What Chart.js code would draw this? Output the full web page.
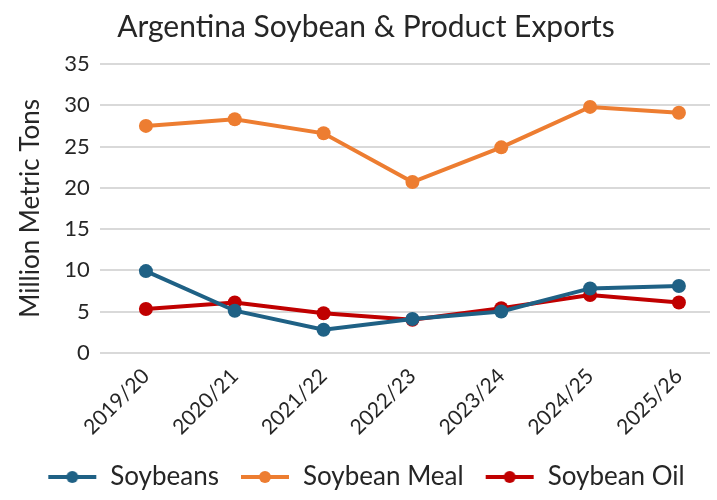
<!DOCTYPE html>
<html>
<head>
<meta charset="utf-8">
<script src="https://cdn.jsdelivr.net/npm/chart.js@4.4.1/dist/chart.umd.min.js"></script>
<style>
  html, body { margin:0; padding:0; background:#fff; }
  #c { display:block; }
</style>
</head>
<body>
<canvas id="c" width="717" height="500"></canvas>
<script>
// marketing years
var seasons = ["2019/20", "2020/21", "2021/22", "2022/23", "2023/24", "2024/25", "2025/26"];
var soybeans = [9.9, 5.1, 2.8, 4.1, 5.0, 7.8, 8.1];
var soyMeal = [27.5, 28.3, 26.6, 20.7, 24.9, 29.8, 29.1];
var soyOil = [5.3, 6.1, 4.8, 4.0, 5.4, 7.0, 6.1];
var yTicks = [0, 5, 10, 15, 20, 25, 30, 35];

var FONT = "Lato, 'Open Sans', sans-serif";

function toPoints(arr){
    var pts = [];
    for(var i=0;i<arr.length;i++){
        pts.push({x:i, y:arr[i]});
    }
    return pts;
}

// legend marker: short line with a dot in the middle
function legendMark(color){
    var cv = document.createElement("canvas");
    cv.width = 50; cv.height = 16;
    var g = cv.getContext("2d");
    g.strokeStyle = color;
    g.lineWidth = 4;
    g.beginPath(); g.moveTo(1,8); g.lineTo(49,8); g.stroke();
    g.fillStyle = color;
    g.beginPath(); g.arc(25,8,6,0,Math.PI*2); g.fill();
    return cv;
}

function series(label, arr, color){
    return {
        label: label,
        data: toPoints(arr),
        borderColor: color,
        backgroundColor: color,
        borderWidth: 4,
        pointRadius: 7,
        pointHoverRadius: 7,
        pointBorderWidth: 0,
        tension: 0,
        _mark: legendMark(color)
    };
}

var ctx = document.getElementById("c").getContext("2d");
var chart = new Chart(ctx, {
    type: "line",
    data: {
        datasets: [
            series("Soybeans", soybeans, "#1f6185"),
            series("Soybean Meal", soyMeal, "#ed7d31"),
            series("Soybean Oil", soyOil, "#c00000")
        ]
    },
    options: {
        responsive: false,
        animation: false,
        devicePixelRatio: 1,
        layout: { padding: { left: 15, right: 0, top: 0, bottom: 0 } },
        plugins: {
            title: {
                display: true,
                text: "Argentina Soybean & Product Exports",
                color: "#262626",
                font: { family: FONT, size: 30, weight: "normal" },
                padding: { top: 9, bottom: 19 }
            },
            legend: {
                position: "bottom",
                labels: {
                    usePointStyle: true,
                    pointStyleWidth: 50,
                    color: "#262626",
                    font: { family: FONT, size: 26 },
                    padding: 21,
                    generateLabels: function(ch){
                        var items = Chart.defaults.plugins.legend.labels.generateLabels(ch);
                        for(var i=0;i<items.length;i++){
                            items[i].pointStyle = ch.data.datasets[i]._mark;
                        }
                        return items;
                    }
                }
            },
            tooltip: { enabled: false }
        },
        scales: {
            x: {
                type: "linear",
                min: -0.52,
                max: 6.35,
                grid: { display: false },
                border: { display: false },
                afterBuildTicks: function(axis){
                    var t = [];
                    for(var i=0;i<seasons.length;i++) t.push({value:i});
                    axis.ticks = t;
                },
                ticks: {
                    minRotation: 45,
                    maxRotation: 45,
                    padding: 3,
                    color: "#262626",
                    font: { family: FONT, size: 21 },
                    callback: function(v){ return seasons[v]; }
                }
            },
            y: {
                min: 0,
                max: 35,
                afterBuildTicks: function(axis){
                    axis.ticks = yTicks.map(function(v){ return {value:v}; });
                },
                grid: { color: "#d9d9d9", lineWidth: 2, drawTicks: false },
                border: { display: false },
                ticks: {
                    padding: 10,
                    color: "#262626",
                    font: { family: FONT, size: 22 }
                },
                title: {
                    display: true,
                    text: "Million Metric Tons",
                    color: "#262626",
                    font: { family: FONT, size: 26 },
                    padding: { top: 0, bottom: 8 }
                }
            }
        }
    }
});
</script>
</body>
</html>
